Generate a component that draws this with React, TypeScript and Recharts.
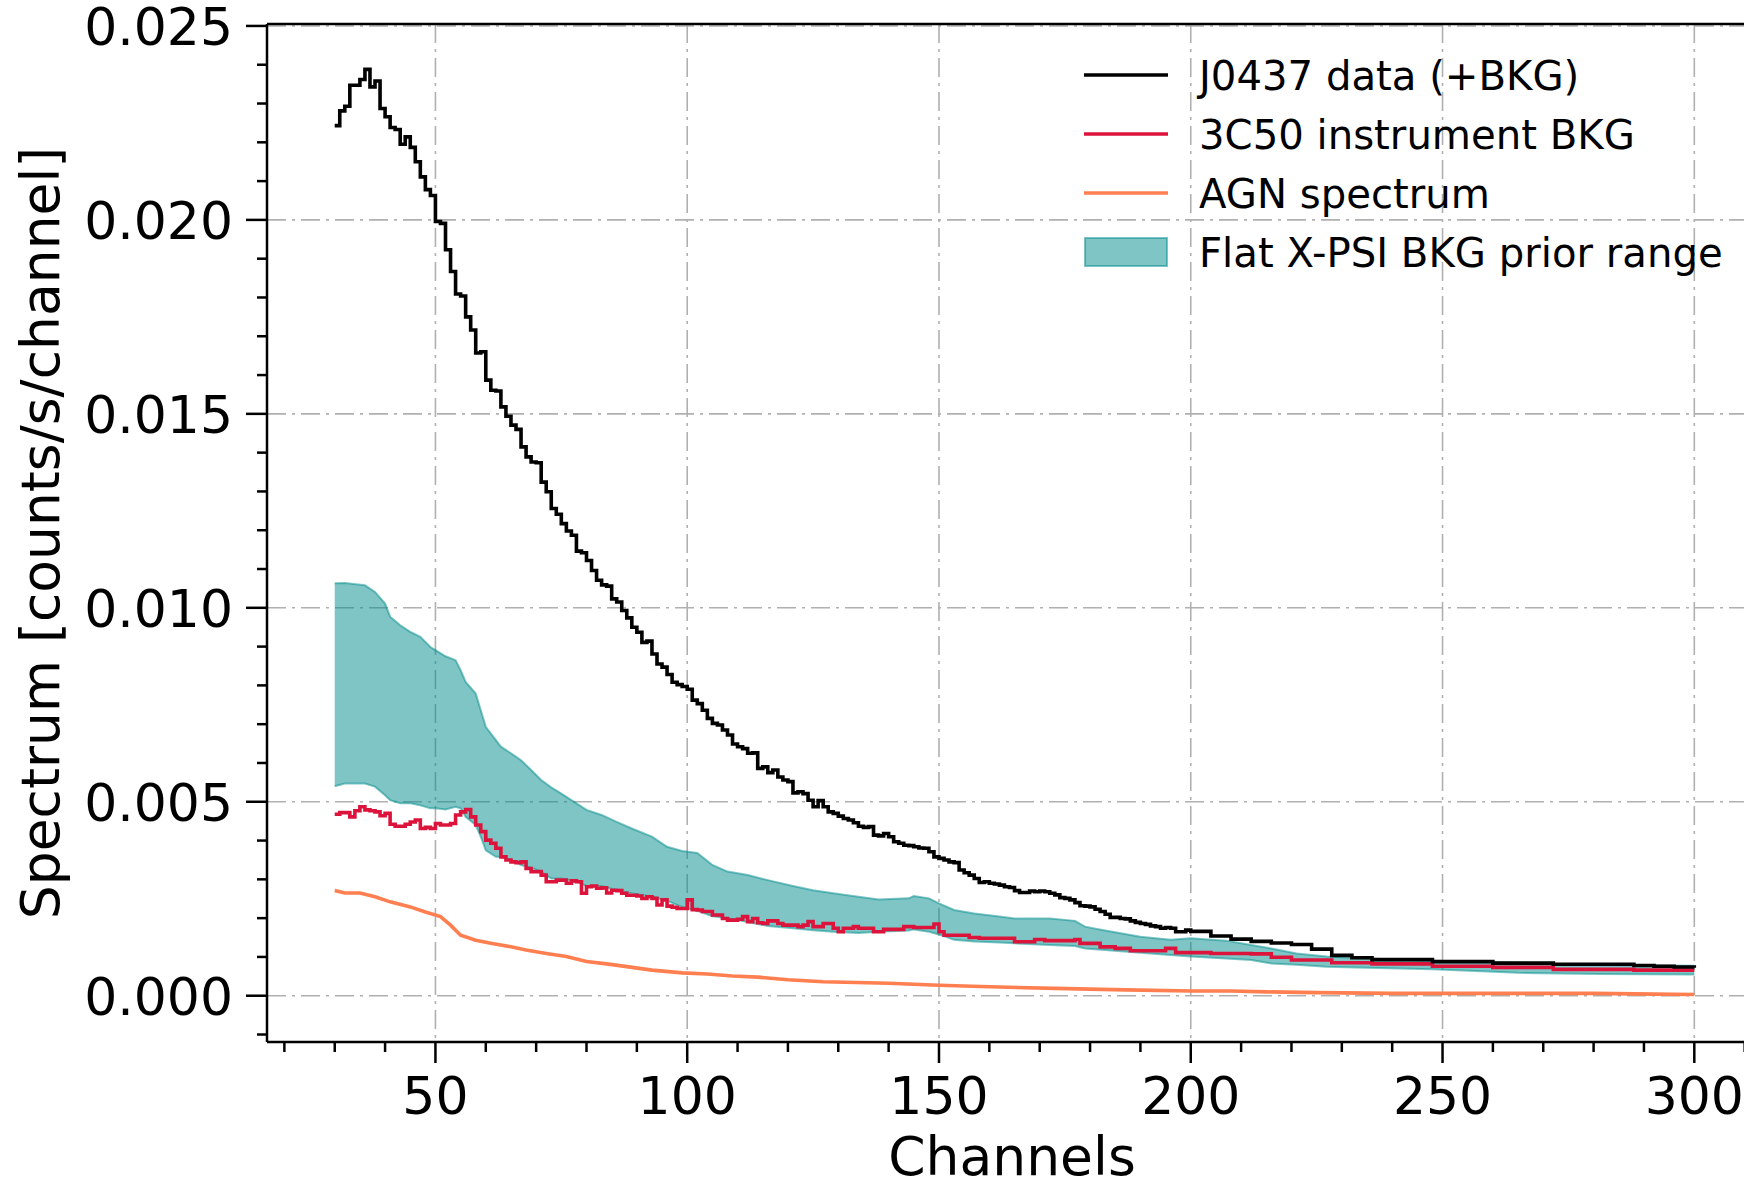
import React from 'react';
import {
  ComposedChart,
  Line,
  Area,
  XAxis,
  YAxis,
  CartesianGrid,
  ReferenceLine,
  Customized,
} from 'recharts';

// channel bins 30..200 read one by one, then every 4th channel to 300
const fineChannels = Array.from({ length: 171 }, (_, i) => 30 + i);
const tailChannels = [204, 208, 212, 216, 220, 224, 228, 232, 236, 240, 244, 248, 252, 256, 260, 264, 268, 272, 276, 280, 284, 288, 292, 296, 300];

// J0437 data (+BKG)
const j0437Fine = [
  0.02243, 0.02281, 0.02293, 0.02347, 0.02347, 0.02362, 0.02388, 0.02343, 0.02358, 0.02287,
  0.02266, 0.02238, 0.02233, 0.02195, 0.02214, 0.02187, 0.0215, 0.02111, 0.02078, 0.02063,
  0.01996, 0.01991, 0.01923, 0.01867, 0.01809, 0.01804, 0.0175, 0.01716, 0.01657, 0.0166,
  0.01587, 0.01561, 0.01559, 0.01518, 0.01494, 0.01471, 0.0146, 0.01415, 0.01389, 0.01376,
  0.01374, 0.01324, 0.01299, 0.01256, 0.01241, 0.01217, 0.01198, 0.01187, 0.01146, 0.01142,
  0.01122, 0.01096, 0.01071, 0.01059, 0.01056, 0.01023, 0.01015, 0.00993, 0.00974, 0.0095,
  0.00937, 0.00911, 0.00914, 0.00881, 0.00855, 0.00847, 0.00828, 0.00808, 0.00802, 0.00797,
  0.0079, 0.00762, 0.00753, 0.00736, 0.00715, 0.00702, 0.00698, 0.00685, 0.00672, 0.00649,
  0.00642, 0.00637, 0.00625, 0.00626, 0.00586, 0.0059, 0.00575, 0.00582, 0.00564, 0.00556,
  0.00552, 0.00523, 0.00526, 0.00521, 0.00504, 0.00487, 0.00503, 0.00487, 0.00474, 0.0047,
  0.00463, 0.00457, 0.00453, 0.00446, 0.00437, 0.00434, 0.00436, 0.00414, 0.00412, 0.00418,
  0.0041, 0.00397, 0.00393, 0.00388, 0.00387, 0.00384, 0.00381, 0.0038, 0.00371, 0.00358,
  0.00354, 0.0035, 0.00345, 0.00343, 0.00324, 0.00317, 0.00311, 0.00302, 0.00292, 0.00294,
  0.0029, 0.00288, 0.00285, 0.00281, 0.00279, 0.00271, 0.00266, 0.00266, 0.0027, 0.00268,
  0.0027, 0.00268, 0.00264, 0.0026, 0.00253, 0.00251, 0.00247, 0.0024, 0.00232, 0.00231,
  0.00229, 0.00223, 0.00217, 0.0021, 0.00202, 0.00202, 0.00199, 0.00198, 0.00193, 0.00189,
  0.00186, 0.00184, 0.0018, 0.00178, 0.00174, 0.00176, 0.00174, 0.00165, 0.00165, 0.00169,
  0.00166,
];
const j0437Tail = [
  0.00154, 0.00146, 0.0014, 0.00136, 0.00132, 0.0012, 0.00104, 0.00098, 0.00093, 0.00093,
  0.00093, 0.00088, 0.00088, 0.00088, 0.00084, 0.00084, 0.00084, 0.00081, 0.00081, 0.00081,
  0.00081, 0.00078, 0.00076, 0.00074, 0.00072,
];

// 3C50 instrument BKG
const bkgFine = [
  0.00468, 0.00472, 0.00472, 0.00461, 0.00477, 0.00487, 0.00479, 0.00477, 0.00474, 0.00464,
  0.0047, 0.00442, 0.00437, 0.00437, 0.00442, 0.00448, 0.00453, 0.00431, 0.00434, 0.00431,
  0.00444, 0.0044, 0.0044, 0.00444, 0.00466, 0.00474, 0.0048, 0.00461, 0.0044, 0.00423,
  0.00401, 0.00393, 0.0038, 0.00358, 0.0035, 0.00345, 0.00343, 0.00345, 0.00328, 0.0032,
  0.0032, 0.00311, 0.00294, 0.00294, 0.00298, 0.00298, 0.0029, 0.00296, 0.00294, 0.00264,
  0.00281, 0.00283, 0.00277, 0.00278, 0.00265, 0.00272, 0.00271, 0.00264, 0.00259, 0.00259,
  0.00257, 0.00251, 0.00255, 0.00251, 0.00234, 0.00247, 0.00231, 0.00228, 0.00225, 0.00225,
  0.00247, 0.00222, 0.00221, 0.00217, 0.00217, 0.00208, 0.00208, 0.00199, 0.00195, 0.00195,
  0.00197, 0.00204, 0.00191, 0.00199, 0.00188, 0.00186, 0.00193, 0.00193, 0.00186, 0.00182,
  0.00182, 0.00182, 0.00178, 0.00182, 0.00191, 0.00178, 0.00178, 0.00186, 0.00186, 0.00174,
  0.00165, 0.00174, 0.00174, 0.00178, 0.00174, 0.00174, 0.00174, 0.00165, 0.00165, 0.00171,
  0.00171, 0.00171, 0.00171, 0.00178, 0.00178, 0.00176, 0.00176, 0.00176, 0.00176, 0.00185,
  0.00165, 0.00156, 0.00156, 0.00156, 0.00156, 0.00156, 0.0015, 0.0015, 0.00148, 0.00148,
  0.00148, 0.00148, 0.00148, 0.00148, 0.00148, 0.00139, 0.00139, 0.00139, 0.00139, 0.00145,
  0.00145, 0.00142, 0.00142, 0.00142, 0.00142, 0.00142, 0.00142, 0.00145, 0.00135, 0.00135,
  0.00135, 0.00135, 0.00126, 0.00126, 0.00126, 0.00122, 0.00122, 0.00122, 0.00116, 0.00116,
  0.00116, 0.00116, 0.00116, 0.00116, 0.00116, 0.00122, 0.00122, 0.00111, 0.00111, 0.00111,
  0.00111,
];
const bkgTail = [
  0.00109, 0.00109, 0.00108, 0.00099, 0.00092, 0.00092, 0.00085, 0.00085, 0.00082, 0.00082,
  0.00082, 0.00076, 0.00076, 0.00076, 0.00073, 0.00073, 0.00073, 0.00068, 0.00068, 0.00068,
  0.00068, 0.00066, 0.00066, 0.00066, 0.00066,
];

// AGN spectrum
const agnChannels = [30, 32, 35, 38, 41, 45, 48, 51, 53, 55, 58, 61, 65, 68, 72, 76, 80, 84, 88, 93, 99, 104, 109, 114, 120, 127, 140, 150, 160, 173, 187, 200, 208, 215, 225, 240, 260, 280, 292, 300];
const agnValues = [
  0.00271, 0.00265, 0.00265, 0.00255, 0.00242, 0.00229, 0.00216, 0.00204, 0.00182, 0.00156,
  0.00143, 0.00135, 0.00126, 0.00118, 0.00109, 0.00101, 0.00088, 0.00082, 0.00075, 0.00066,
  0.00059, 0.00056, 0.00051, 0.00048, 0.00041, 0.00036, 0.00032, 0.00027, 0.00023, 0.00019,
  0.00015, 0.00012, 0.00012, 0.0001, 0.00008, 0.00006, 0.00006, 0.00006, 0.00004, 0.00003,
];

// Flat X-PSI BKG prior range
const bandChannels = [30, 32, 36, 38, 40, 41, 43, 45, 47, 49, 50, 52, 54, 55, 56, 58, 59, 60, 62, 63, 65, 67, 69, 71, 73, 75, 78, 80, 83, 86, 89, 93, 96, 99, 102, 105, 108, 112, 116, 121, 125, 129, 134, 138, 144, 145, 148, 150, 153, 157, 162, 165, 172, 177, 179, 183, 190, 196, 200, 207, 212, 216, 221, 227, 235, 248, 265, 281, 300];
const bandHigh = [
  0.01063, 0.01064, 0.01058, 0.01041, 0.01011, 0.00977, 0.00955, 0.00938, 0.00925, 0.00899,
  0.00891, 0.00875, 0.00865, 0.00839, 0.00809, 0.00779, 0.00736, 0.00693, 0.00659, 0.00642,
  0.00625, 0.00607, 0.00582, 0.00556, 0.00537, 0.00521, 0.00496, 0.00479, 0.00466, 0.00448,
  0.00431, 0.0041, 0.00384, 0.00373, 0.00368, 0.00337, 0.0032, 0.00311, 0.00298, 0.00283,
  0.00272, 0.00264, 0.00255, 0.00248, 0.00251, 0.00257, 0.00251, 0.00238, 0.00221, 0.00212,
  0.00204, 0.00199, 0.00199, 0.00193, 0.00178, 0.00168, 0.00152, 0.00144, 0.00148, 0.00142,
  0.00131, 0.00122, 0.00109, 0.00101, 0.00096, 0.0009, 0.00085, 0.00079, 0.00077,
];
const bandLow = [
  0.0054, 0.00547, 0.00547, 0.00539, 0.00517, 0.00504, 0.00496, 0.00496, 0.00491, 0.00483,
  0.00483, 0.0048, 0.00487, 0.00483, 0.00461, 0.0044, 0.0041, 0.00375, 0.00358, 0.00358,
  0.0035, 0.00337, 0.0033, 0.0032, 0.00302, 0.00302, 0.00294, 0.00283, 0.00283, 0.00272,
  0.00264, 0.00255, 0.00245, 0.00228, 0.00219, 0.00205, 0.002, 0.0019, 0.0018, 0.00174,
  0.00169, 0.00165, 0.00162, 0.00165, 0.00168, 0.00171, 0.00165, 0.00158, 0.00144, 0.0014,
  0.00137, 0.00135, 0.00131, 0.00128, 0.00122, 0.00118, 0.00111, 0.00105, 0.00101, 0.00096,
  0.00092, 0.00083, 0.0008, 0.00075, 0.00072, 0.00068, 0.00059, 0.00056, 0.00055,
];

const xTicks = Array.from({ length: 30 }, (_, i) => 20 + 10 * i);
const yTicks = Array.from({ length: 27 }, (_, i) => (i - 1) / 1000);
const xMajor = [50, 100, 150, 200, 250, 300];
const yMajor = [0, 0.005, 0.01, 0.015, 0.02, 0.025];

const legendItems = [
  { label: 'J0437 data (+BKG)', color: '#000000', kind: 'line' },
  { label: '3C50 instrument BKG', color: '#dc143c', kind: 'line' },
  { label: 'AGN spectrum', color: '#ff7f50', kind: 'line' },
  { label: 'Flat X-PSI BKG prior range', color: '#008b8b', kind: 'patch' },
];

const X_MIN = 16.55;
const X_MAX = 312.45;
const Y_MIN = -0.001193;
const Y_MAX = 0.02505;

const PLOT_LEFT = 267;
const PLOT_BOTTOM = 1042;
const FONT = 'DejaVu Sans';
const LW = 3.6;

const withTail = (fine: number[], tail: number[]) => [
  ...fineChannels.map((ch, i) => ({ ch, v: fine[i] })),
  ...tailChannels.map((ch, i) => ({ ch, v: tail[i] })),
];

const j0437Data = withTail(j0437Fine, j0437Tail);
const bkgData = withTail(bkgFine, bkgTail);
const agnData = agnChannels.map((ch, i) => ({ ch, v: agnValues[i] }));
const bandData = bandChannels.map((ch, i) => ({ ch, range: [bandLow[i], bandHigh[i]] }));

const XTick = (props: any) => {
  const { x, payload } = props;
  const major = payload.value % 50 === 0;
  return (
    <g>
      <line x1={x} x2={x} y1={PLOT_BOTTOM} y2={PLOT_BOTTOM + (major ? 21 : 10)} stroke="#000" strokeWidth={2.5} />
      {major && (
        <text x={x} y={PLOT_BOTTOM + 72} textAnchor="middle" fontFamily={FONT} fontSize={52} fill="#000">
          {payload.value}
        </text>
      )}
    </g>
  );
};

const YTick = (props: any) => {
  const { y, payload } = props;
  const major = Math.abs(Math.round(payload.value * 1000)) % 5 === 0;
  return (
    <g>
      <line x1={PLOT_LEFT - (major ? 21 : 10)} x2={PLOT_LEFT} y1={y} y2={y} stroke="#000" strokeWidth={2.5} />
      {major && (
        <text x={PLOT_LEFT - 34} y={y + 19} textAnchor="end" fontFamily={FONT} fontSize={52} fill="#000">
          {payload.value.toFixed(3)}
        </text>
      )}
    </g>
  );
};

// axis titles and the legend, placed where the original figure has them
const Decorations = () => (
  <g fontFamily={FONT} fill="#000">
    <text x={1012} y={1175} textAnchor="middle" fontSize={53.5}>
      Channels
    </text>
    <text x={59} y={533} textAnchor="middle" fontSize={53.5} transform="rotate(-90 59 533)">
      Spectrum [counts/s/channel]
    </text>
    {legendItems.map((item, i) => {
      const cy = 75 + i * 59;
      return (
        <g key={item.label}>
          {item.kind === 'line' ? (
            <line x1={1084} x2={1168} y1={cy} y2={cy} stroke={item.color} strokeWidth={LW} />
          ) : (
            <rect x={1085} y={cy - 14} width={82} height={28} fill={item.color} fillOpacity={0.5}
              stroke={item.color} strokeOpacity={0.5} strokeWidth={2} />
          )}
          <text x={1199} y={cy + 15} fontSize={40.2}>
            {item.label}
          </text>
        </g>
      );
    })}
  </g>
);

export default function App() {
  return (
    <div
      style={{
        position: 'fixed',
        left: 0,
        top: 0,
        width: 1744,
        height: 1182,
        overflow: 'hidden',
        background: '#fff',
      }}
    >
      <ComposedChart width={1790} height={1182} margin={{ top: 24, right: 33, bottom: 0, left: 0 }}>
        <CartesianGrid
          horizontalValues={yMajor}
          verticalValues={xMajor}
          stroke="#b0b0b0"
          strokeWidth={1.6}
          strokeDasharray="19 6 3 6"
        />
        <XAxis
          type="number"
          dataKey="ch"
          domain={[X_MIN, X_MAX]}
          allowDataOverflow
          ticks={xTicks}
          interval={0}
          height={140}
          tickLine={false}
          tick={<XTick />}
          axisLine={{ stroke: '#000', strokeWidth: 2.5 }}
        />
        <YAxis
          type="number"
          domain={[Y_MIN, Y_MAX]}
          allowDataOverflow
          ticks={yTicks}
          interval={0}
          width={267}
          tickLine={false}
          tick={<YTick />}
          axisLine={{ stroke: '#000', strokeWidth: 2.5 }}
        />
        <ReferenceLine y={Y_MAX} stroke="#000" strokeWidth={2.5} />
        <ReferenceLine x={X_MAX} stroke="#000" strokeWidth={2.5} />
        <Area
          data={bandData}
          dataKey="range"
          type="linear"
          fill="#008b8b"
          fillOpacity={0.5}
          stroke="#008b8b"
          strokeOpacity={0.5}
          strokeWidth={2}
          isAnimationActive={false}
        />
        <Line data={agnData} dataKey="v" type="linear" stroke="#ff7f50" strokeWidth={LW} dot={false} isAnimationActive={false} />
        <Line data={bkgData} dataKey="v" type="stepAfter" stroke="#dc143c" strokeWidth={LW} dot={false} isAnimationActive={false} />
        <Line data={j0437Data} dataKey="v" type="stepAfter" stroke="#000000" strokeWidth={LW} dot={false} isAnimationActive={false} />
        <Customized component={Decorations} />
      </ComposedChart>
    </div>
  );
}
